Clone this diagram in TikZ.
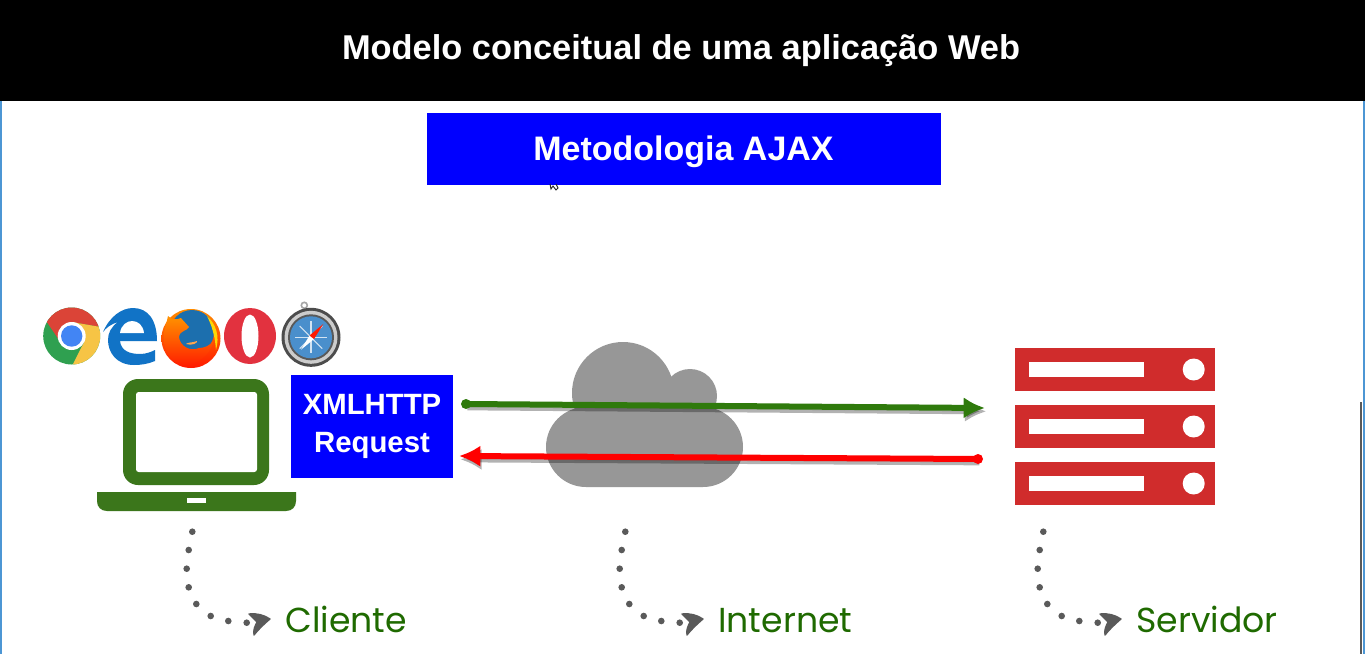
\documentclass[tikz,border=0pt]{standalone}
\usepackage{fontspec}
\setmainfont{Liberation Sans}
\newfontfamily\labelfont{Poppins}
\usepackage{xcolor}
\usetikzlibrary{arrows.meta, positioning, calc, fit}
\definecolor{laptopgreen}{HTML}{3B761B}
\definecolor{arrowgreen}{HTML}{2F7A0C}
\definecolor{labelgreen}{HTML}{1F6A00}
\definecolor{serverred}{HTML}{D02C2C}
\definecolor{cloudgray}{HTML}{979797}
\definecolor{dotgray}{HTML}{5A5A5A}
\definecolor{edgeblue}{HTML}{1173C6}
\definecolor{chromered}{HTML}{DB4437}
\definecolor{chromegreen}{HTML}{2FA050}
\definecolor{chromeyellow}{HTML}{F6C445}
\definecolor{chromeblue}{HTML}{4285F4}
\definecolor{foxblue}{HTML}{1C6FAE}
\definecolor{operared}{HTML}{E2323F}
\definecolor{safariblue}{HTML}{4A8FCC}
\tikzset{every node/.style={font=\bfseries}}
\begin{document}
\begin{tikzpicture}[x=0.75pt, y=-0.75pt,
    banner/.style={fill=blue, text=white, align=center, inner sep=0pt},
    placename/.style={anchor=base west, inner sep=0pt, text=labelgreen, font=\labelfont\fontsize{26}{30}\selectfont},
    serverbox/.style={fill=serverred},
    flow/.style={line width=4.5pt, -{Latex[length=16pt, width=16pt]}},
    flowshadow/.style={flow, draw=black, fill=black, opacity=.3}]
  \useasboundingbox (0,0) rectangle (1365,654);
  \fill[white] (0,0) rectangle (1365,654);
  \draw[edgeblue!75!white, line width=1.5pt] (1,100) -- (1,654);
  \draw[edgeblue!75!white, line width=1.2pt] (1364,100) -- (1364,654);
  \draw[black!65, line width=1.5pt] (1360.5,402) -- (1360.5,654);

  % header
  \node[fill=black, minimum width=1365*0.75pt, minimum height=101*0.75pt, anchor=north west, inner sep=0pt] (titlebar) at (0,0) {};
  \node[text=white, font=\bfseries\fontsize{25.8}{30}\selectfont] (titletext) at (681,51) {Modelo conceitual de uma aplicação Web};
  \node[banner, minimum width=514*0.75pt, minimum height=72*0.75pt] (ajax) at (683.5,149) {};
  \node[text=white, font=\bfseries\fontsize{25.5}{30}\selectfont] (ajaxtext) at (683.5,152) {Metodologia AJAX};

  % cursor
  \draw[black!85, line width=.7pt] (550,184) -- (551,189) -- (553,186) -- (556,190) -- (558,188) -- (556,184);

  % chrome
  \fill[chromegreen] (71.7,336) circle (28.5);
  \begin{scope}
    \clip (71.7,336) circle (28.5);
    \fill[chromered] (71.7,336) -- (59,340) -- (41,313.3) -- (41,300) -- (105,300) -- (106.3,328) -- (71.7,322) -- cycle;
    \fill[chromeyellow] (71.7,336) -- (71.7,322) -- (106.3,328) -- (105,370) -- (70,370) -- (84.3,341.7) -- cycle;
  \end{scope}
  \fill[white] (71.7,336) circle (14);
  \fill[chromeblue] (71.7,336) circle (10.7);

  % edge
  \fill[edgeblue] (103,332) .. controls (110,316) and (122,308) .. (133,308)
    .. controls (148,308) and (157,320) .. (157,341) -- (120,341)
    .. controls (121,351) and (130,354) .. (140,354) .. controls (146,354) and (151,352) .. (155,350)
    -- (155,361) .. controls (148,364) and (141,365) .. (134,365)
    .. controls (116,365) and (108,352) .. (108,340) .. controls (108,333) and (111,327) .. (118,322)
    .. controls (111,324) and (106,328) .. (103,332) -- cycle;
  \fill[white] (120,333) .. controls (121,325) and (127,321) .. (132,321) .. controls (138,321) and (143,325) .. (144,333) -- cycle;

  % firefox
  \shade[top color=orange!90!yellow, bottom color=red!80!orange] (191,338.5) circle (29.5);
  \fill[foxblue] (192,332) circle (22);
  \fill[yellow!75!orange] (207,316) .. controls (216,324) and (220,336) .. (216,350)
    .. controls (215,336) and (212,326) .. (207,316) -- cycle;
  \shade[top color=orange!85!yellow, bottom color=red!80!orange] (164,333) .. controls (165,326) and (167,322) .. (168,316)
    .. controls (172,320) and (176,320) .. (181,318) .. controls (184,322) and (187,324) .. (189,327)
    .. controls (186,332) and (180,330) .. (179,337) .. controls (180,346) and (190,352) .. (199,348)
    .. controls (204,348) and (210,346) .. (214,340) .. controls (210,358) and (192,368) .. (178,364)
    .. controls (168,358) and (162,346) .. (164,333) -- cycle;
  \fill[orange!70!white] (186,344) .. controls (192,346) and (198,343) .. (197,341) .. controls (192,343) and (188,342) .. (186,344) -- cycle;

  % opera
  \fill[operared] (250,336) ellipse (26 and 28);
  \fill[white] (250,336) ellipse (8.5 and 21.5);

  % safari
  \draw[black!35, line width=1.2pt] (304.3,305.3) circle (3);
  \fill[black!70] (311,337.3) circle (29.5);
  \fill[black!20] (311,337.3) circle (26.5);
  \fill[black!65] (311,337.3) circle (23);
  \fill[safariblue] (311,337.3) circle (21);
  \foreach \ang in {0,45,...,315}
    \draw[white!75!safariblue, line width=.8pt] (311,337.3) -- ++(\ang:16);
  \fill[white] (301,349.7) -- (309.5,335.5) -- (314,339) -- cycle;
  \fill[red!80!orange] (323.3,324) -- (309.5,335.5) -- (314,339) -- cycle;

  % laptop
  \fill[laptopgreen, rounded corners=15*0.75pt] (123,379) rectangle (269,485);
  \fill[white, rounded corners=2pt] (136,392) rectangle (257,472);
  \fill[laptopgreen] (97,492) -- (296,492) -- (296,501) .. controls (296,507) and (292,511) .. (286,511)
    -- (107,511) .. controls (101,511) and (97,507) .. (97,501) -- cycle;
  \fill[white] (187,498) rectangle (206,503);

  \node[banner, minimum width=162*0.75pt, minimum height=103*0.75pt, font=\bfseries\fontsize{22}{28.5}\selectfont] (xmlreq) at (372,426.5) {XMLHTTP\\Request};

  % cloud
  \fill[cloudgray] (623,393) circle (51);
  \fill[cloudgray] (690,396) circle (27);
  \fill[cloudgray, rounded corners=30pt] (546,407) rectangle (743,487);
  \fill[cloudgray] (590,392) rectangle (700,420);

  % servers
  \foreach \name/\ytop in {srvtop/348, srvmid/405, srvlow/462} {
    \node[serverbox, minimum width=200*0.75pt, minimum height=43*0.75pt, inner sep=0pt, anchor=north west] (\name) at (1015,\ytop) {};
    \fill[white] (1029,\ytop+14) rectangle (1144,\ytop+29);
    \fill[white] (1193.7,\ytop+21.5) circle (11);
  }

  % connectors
  \coordinate (sendstart) at (466,404);
  \coordinate (sendend) at (985,408);
  \coordinate (backstart) at (978,459);
  \coordinate (backend) at (459,456);
  \draw[flowshadow] ([shift={(1pt,-2.5pt)}]sendstart) -- ([shift={(1pt,-2.5pt)}]sendend);
  \draw[flowshadow] ([shift={(1pt,-2.5pt)}]backstart) -- ([shift={(1pt,-2.5pt)}]backend);
  \draw[flow, arrowgreen] (sendstart) -- (sendend);
  \fill[arrowgreen] (sendstart) circle (5);
  \draw[flow, red] (backstart) -- (backend);
  \fill[red] (backstart) circle (5);

  % dots and names
  \foreach \dx/\name/\lab in {0/cliente/Cliente, 433/internet/Internet, 851/servidor/Servidor} {
    \foreach \px/\py in {192.3/531.7, 188.7/550, 186.7/568.7, 188.7/587.3, 196.3/604, 210.7/616, 228.3/621, 246.7/622.7}
      \fill[dotgray] (\px+\dx,\py) circle (3.3);
    \filldraw[dotgray, line width=1pt, line join=round] (249+\dx,614) .. controls (257+\dx,613) and (264+\dx,615) .. (270+\dx,619)
      .. controls (264+\dx,624) and (258+\dx,630) .. (254+\dx,635) .. controls (253+\dx,630) and (255+\dx,626) .. (257+\dx,622) -- cycle;
    \node[placename] (\name) at (285+\dx,632) {\lab};
  }
\end{tikzpicture}
\end{document}
